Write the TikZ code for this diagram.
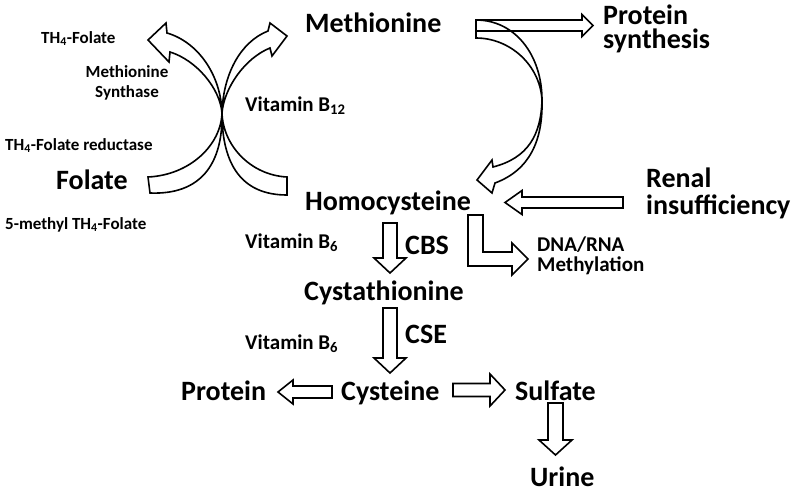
\documentclass[tikz,border=0pt]{standalone}
\usepackage{fontspec}
\setmainfont{Carlito}
\usetikzlibrary{calc}
\tikzset{every node/.style={inner sep=0pt},
         big/.style={font=\fontsize{28}{25}\selectfont\bfseries},
         mid/.style={font=\fontsize{21}{20}\selectfont\bfseries},
         small/.style={font=\fontsize{17}{20}\selectfont\bfseries},
         hollow/.style={draw,line width=1.6pt},
        }
% block arrow: start, tip, half shaft, half head, head length
\newcommand{\hollowarrow}[5]{%
  \coordinate (ha-s) at (#1);
  \coordinate (ha-t) at (#2);
  \coordinate (ha-h) at ($(ha-t)!#5!(ha-s)$);
  \draw[hollow] ($(ha-s)!#3!90:(ha-t)$) -- ($(ha-h)!#3!-90:(ha-s)$)
     -- ($(ha-h)!#4!-90:(ha-s)$) -- (ha-t) -- ($(ha-h)!#4!90:(ha-s)$)
     -- ($(ha-h)!#3!90:(ha-s)$) -- ($(ha-s)!#3!-90:(ha-t)$) -- cycle;}

\begin{document}
\begin{tikzpicture}[x=1pt,y=-1pt]
    \useasboundingbox (0,0) rectangle (800,491);

    % multi-line nodes sit on the baseline of their last line
    \node[small,anchor=base west](thf)at(41,43){TH\textsubscript{4}-Folate};
    \node[small,align=center,anchor=base](msyn)at(127,97){Methionine\\Synthase};
    \node[mid,anchor=base west](b12)at(245,111){Vitamin B\textsubscript{12}};
    \node[small,anchor=base west](red)at(5,150){TH\textsubscript{4}-Folate reductase};
    \node[big,anchor=base west](folate)at(56,189){Folate};
    \node[small,anchor=base west](mthf)at(5,229){5-methyl TH\textsubscript{4}-Folate};
    \node[big,anchor=base west](met)at(305,32){Methionine};
    \node[big,align=left,anchor=base west](psyn)at(603,48){Protein\\[-1pt]synthesis};
    \node[big,anchor=base west](hcy)at(305,210){Homocysteine};
    \node[big,align=left,anchor=base west](renal)at(646,214){Renal\\[2pt]insufficiency};
    \node[mid,anchor=base west](b6a)at(245,248){Vitamin B\textsubscript{6}};
    \node[big,anchor=base west](cbs)at(405,254){CBS};
    \node[mid,align=left,anchor=base west](dna)at(537,271){DNA/RNA\\Methylation};
    \node[big,anchor=base west](cth)at(304,300){Cystathionine};
    \node[big,anchor=base west](cse)at(405,343){CSE};
    \node[mid,anchor=base west](b6b)at(245,349){Vitamin B\textsubscript{6}};
    \node[big,anchor=base west](prot)at(181,400){Protein};
    \node[big,anchor=base west](cys)at(341,400){Cysteine};
    \node[big,anchor=base west](sulf)at(515,400){Sulfate};
    \node[big,anchor=base west](urine)at(530,486){Urine};

    % crossing of the folate cycle
    \coordinate(cross)at(222,113);
    \draw[hollow](167,33)..controls(198,42)and(221,75)..(cross)
        ..controls(223,145)and(250,175)..(287,177)--(287,195)
        ..controls(242,195)and(222,165)..(cross)
        ..controls(220,88)and(196,60)..(170,52)--(169,62)--(148,40)--(166,23)--cycle;
    \draw[hollow](268,31)..controls(240,42)and(223,75)..(cross)
        ..controls(221,145)and(190,175)..(148,177)--(150,193)
        ..controls(200,195)and(223,165)..(cross)
        ..controls(224,88)and(245,58)..(270,48)--(272,56)--(287,36)--(270,23)--cycle;

    % methionine back to homocysteine
    \coordinate(turn)at(542,100);
    \draw[hollow](476,20)..controls(515,20)and(542,55)..(turn)
        ..controls(543,140)and(530,170)..(495,183)--(492,193)--(477,180)--(492,160)--(493,167)
        ..controls(528,158)and(541,135)..(turn)
        ..controls(540,65)and(510,38)..(476,38)--cycle;

    \coordinate(ps-s)at(476,25.5);  \coordinate(ps-t)at(593,25.5);
    \coordinate(rn-s)at(623,202.5); \coordinate(rn-t)at(505,202.5);
    \coordinate(cb-s)at(390,223);   \coordinate(cb-t)at(390,273);
    \coordinate(cs-s)at(390,308);   \coordinate(cs-t)at(390,373);
    \coordinate(pr-s)at(332,392);   \coordinate(pr-t)at(278,392);
    \coordinate(su-s)at(453,390);   \coordinate(su-t)at(505,390);
    \coordinate(ur-s)at(555.5,403); \coordinate(ur-t)at(555.5,455);

    \hollowarrow{ps-s}{ps-t}{5.5pt}{11pt}{11pt}
    \hollowarrow{rn-s}{rn-t}{5.5pt}{12pt}{17pt}
    \hollowarrow{cb-s}{cb-t}{7pt}{16pt}{15pt}
    \hollowarrow{cs-s}{cs-t}{7pt}{16pt}{15pt}
    \hollowarrow{pr-s}{pr-t}{6pt}{12pt}{15pt}
    \hollowarrow{su-s}{su-t}{6.5pt}{16pt}{15pt}
    \hollowarrow{ur-s}{ur-t}{7.5pt}{16.5pt}{15pt}

    % bent arrow to methylation
    \draw[hollow](468,215)--(483,215)--(483,252)--(512,252)--(512,243)--(528,259)
        --(512,275)--(512,266)--(468,266)--cycle;
\end{tikzpicture}
\end{document}
